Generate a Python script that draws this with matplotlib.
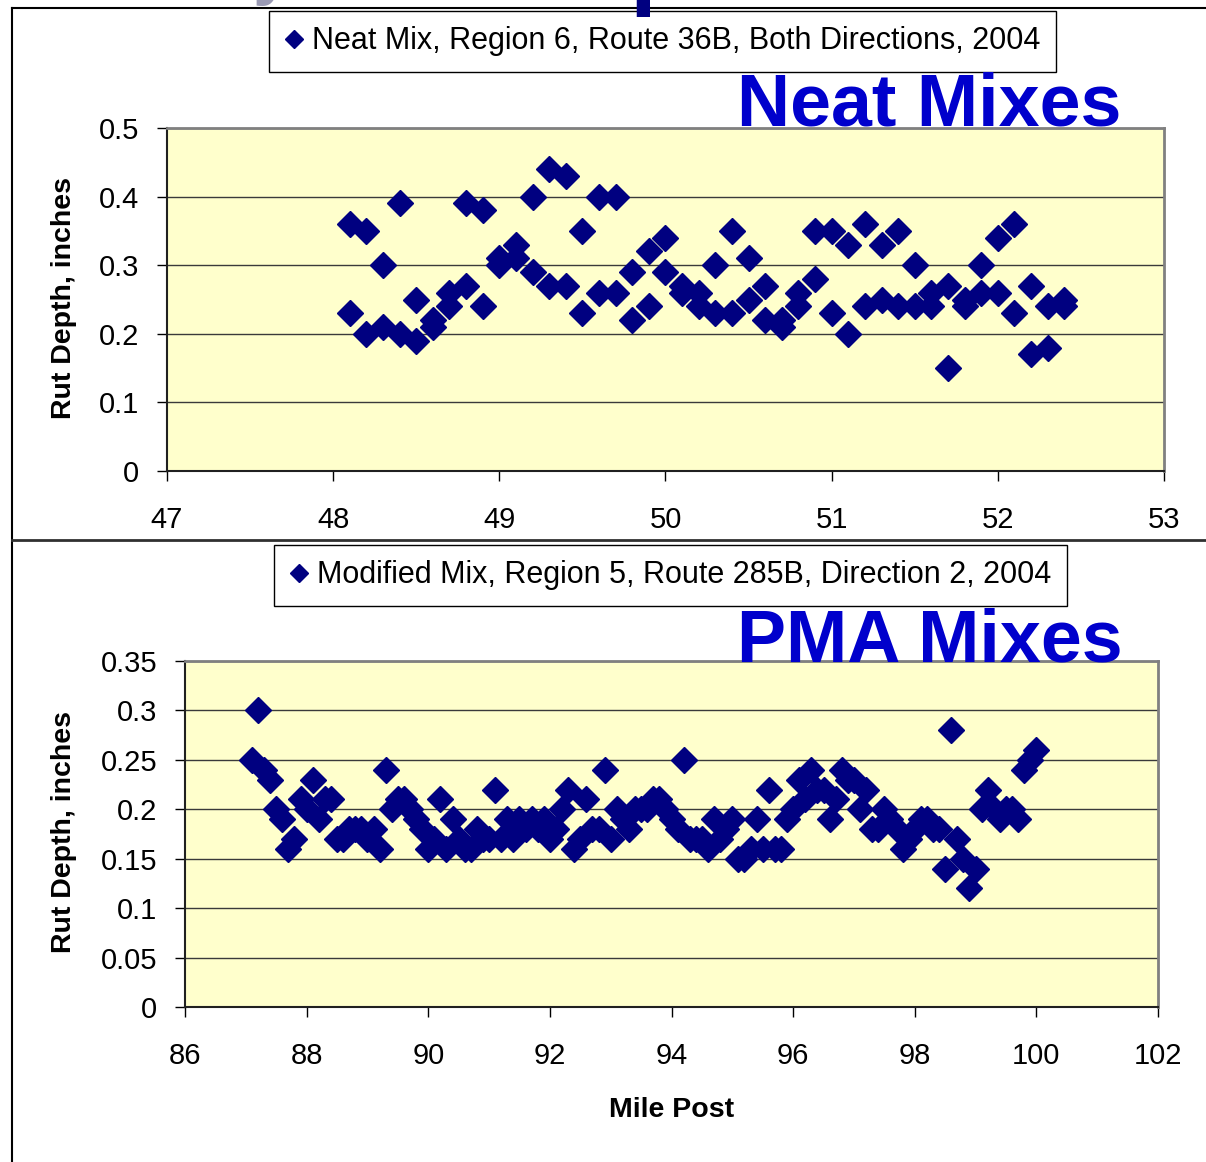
import matplotlib
matplotlib.use("Agg")
import matplotlib.pyplot as plt
from matplotlib.lines import Line2D

plt.rcParams['font.family'] = ['Liberation Sans', 'DejaVu Sans']

# top chart - neat mix, both directions
top_mile = [48.1, 48.2, 48.3, 48.4, 48.5, 48.6, 48.7, 48.8, 48.9,
            49.0, 49.1, 49.2, 49.3, 49.4, 49.5, 49.6, 49.7, 49.8, 49.9,
            50.0, 50.1, 50.2, 50.3, 50.4, 50.5, 50.6, 50.7, 50.8, 50.9,
            51.0, 51.1, 51.2, 51.3, 51.4, 51.5, 51.6, 51.7, 51.8, 51.9,
            52.0, 52.1, 52.2, 52.3, 52.4]
top_dir1 = [0.36, 0.35, 0.30, 0.39, 0.25, 0.22, 0.26, 0.39, 0.38,
            0.31, 0.33, 0.40, 0.44, 0.43, 0.35, 0.40, 0.40, 0.29, 0.32,
            0.34, 0.27, 0.26, 0.30, 0.35, 0.31, 0.27, 0.22, 0.26, 0.35,
            0.35, 0.33, 0.36, 0.33, 0.35, 0.30, 0.26, 0.27, 0.25, 0.30,
            0.34, 0.36, 0.27, 0.24, 0.25]
top_dir2 = [0.23, 0.20, 0.21, 0.20, 0.19, 0.21, 0.24, 0.27, 0.24,
            0.30, 0.31, 0.29, 0.27, 0.27, 0.23, 0.26, 0.26, 0.22, 0.24,
            0.29, 0.26, 0.24, 0.23, 0.23, 0.25, 0.22, 0.21, 0.24, 0.28,
            0.23, 0.20, 0.24, 0.25, 0.24, 0.24, 0.24, 0.15, 0.24, 0.26,
            0.26, 0.23, 0.17, 0.18, 0.24]

# bottom chart - modified (PMA) mix, direction 2
bot_mile = [87.1, 87.2, 87.3, 87.4, 87.5, 87.6, 87.7, 87.8, 87.9,
            88.0, 88.1, 88.2, 88.3, 88.4, 88.5, 88.6, 88.7, 88.8, 88.9,
            89.0, 89.1, 89.2, 89.3, 89.4, 89.5, 89.6, 89.7, 89.8, 89.9,
            90.0, 90.1, 90.2, 90.3, 90.4, 90.5, 90.6, 90.7, 90.8, 90.9,
            91.0, 91.1, 91.2, 91.3, 91.4, 91.5, 91.6, 91.7, 91.8, 91.9,
            92.0, 92.1, 92.2, 92.3, 92.4, 92.5, 92.6, 92.7, 92.8, 92.9,
            93.0, 93.1, 93.2, 93.3, 93.4, 93.5, 93.6, 93.7, 93.8, 93.9,
            94.0, 94.1, 94.2, 94.3, 94.4, 94.5, 94.6, 94.7, 94.8, 94.9,
            95.0, 95.1, 95.2, 95.3, 95.4, 95.5, 95.6, 95.7, 95.8, 95.9,
            96.0, 96.1, 96.2, 96.3, 96.4, 96.5, 96.6, 96.7, 96.8, 96.9,
            97.0, 97.1, 97.2, 97.3, 97.4, 97.5, 97.6, 97.7, 97.8, 97.9,
            98.0, 98.1, 98.2, 98.3, 98.4, 98.5, 98.6, 98.7, 98.8, 98.9,
            99.0, 99.1, 99.2, 99.3, 99.4, 99.5, 99.6, 99.7, 99.8, 99.9,
            100.0]
bot_rut = [0.25, 0.30, 0.24, 0.23, 0.20, 0.19, 0.16, 0.17, 0.21,
           0.20, 0.23, 0.19, 0.21, 0.21, 0.17, 0.17, 0.18, 0.18, 0.18,
           0.17, 0.18, 0.16, 0.24, 0.20, 0.21, 0.21, 0.20, 0.19, 0.18,
           0.16, 0.17, 0.21, 0.16, 0.19, 0.17, 0.16, 0.16, 0.18, 0.17,
           0.17, 0.22, 0.17, 0.19, 0.17, 0.19, 0.18, 0.19, 0.18, 0.19,
           0.17, 0.18, 0.20, 0.22, 0.16, 0.17, 0.21, 0.18, 0.18, 0.24,
           0.17, 0.20, 0.19, 0.18, 0.20, 0.20, 0.20, 0.21, 0.21, 0.20,
           0.19, 0.18, 0.25, 0.17, 0.17, 0.17, 0.16, 0.19, 0.17, 0.18,
           0.19, 0.15, 0.15, 0.16, 0.19, 0.16, 0.22, 0.16, 0.16, 0.19,
           0.20, 0.23, 0.21, 0.24, 0.22, 0.22, 0.19, 0.21, 0.24, 0.23,
           0.23, 0.20, 0.22, 0.18, 0.18, 0.20, 0.19, 0.18, 0.16, 0.17,
           0.18, 0.19, 0.19, 0.18, 0.18, 0.14, 0.28, 0.17, 0.15, 0.12,
           0.14, 0.20, 0.22, 0.20, 0.19, 0.20, 0.20, 0.19, 0.24, 0.25,
           0.26]

top_label = "Neat Mix, Region 6, Route 36B, Both Directions, 2004"
bot_label = "Modified Mix, Region 5, Route 285B, Direction 2, 2004"
top_xticks = [47, 48, 49, 50, 51, 52, 53]
top_yticks = [0, 0.1, 0.2, 0.3, 0.4, 0.5]
bot_xticks = [86, 88, 90, 92, 94, 96, 98, 100, 102]
bot_yticks = [0, 0.05, 0.1, 0.15, 0.2, 0.25, 0.3, 0.35]

W, H = 1206, 1162
navy = '#000080'
fig = plt.figure(figsize=(W / 100, H / 100), dpi=100)


def px(x0, y0, x1, y1):
    # pixel box -> figure fraction rect
    return [x0 / W, 1 - y1 / H, (x1 - x0) / W, (y1 - y0) / H]


def style(ax, xt, yt, ylabels):
    ax.set_facecolor('#FFFFCC')
    ax.set_xticks(xt)
    ax.set_yticks(yt)
    ax.set_yticklabels(ylabels)
    ax.set_xlim(xt[0], xt[-1])
    ax.set_ylim(yt[0], yt[-1])
    ax.yaxis.grid(True, color='#3a3a3a', lw=1)
    ax.set_axisbelow(True)
    for s in ['top', 'right']:
        ax.spines[s].set_color('#808080')
        ax.spines[s].set_linewidth(2)
    for s in ['left', 'bottom']:
        ax.spines[s].set_color('#202020')
        ax.spines[s].set_linewidth(1.5)
    ax.tick_params(axis='both', direction='out', length=7, width=1, labelsize=21)
    ax.tick_params(axis='y', pad=13)
    ax.tick_params(axis='x', pad=18)


ax1 = fig.add_axes(px(167, 128, 1164, 471))
ax1.plot(top_mile + top_mile, top_dir1 + top_dir2, ls='none', marker='D',
         ms=13.5, color=navy, label=top_label)
style(ax1, top_xticks, top_yticks, ['0', '0.1', '0.2', '0.3', '0.4', '0.5'])

ax2 = fig.add_axes(px(185, 661, 1158, 1007))
ax2.plot(bot_mile, bot_rut, ls='none', marker='D', ms=13.5, color=navy,
         label=bot_label)
style(ax2, bot_xticks, bot_yticks,
      ['0', '0.05', '0.1', '0.15', '0.2', '0.25', '0.3', '0.35'])

for ax, cx, cy in [(ax1, 662.5, 41.5), (ax2, 670.5, 575.5)]:
    leg = ax.legend(loc='center', bbox_to_anchor=(cx / W, 1 - cy / H),
                    bbox_transform=fig.transFigure, fontsize=22,
                    frameon=True, fancybox=False, framealpha=1,
                    handlelength=0.6, handletextpad=0.3, borderpad=0.5,
                    markerscale=0.7)
    leg.get_frame().set_edgecolor('black')
    leg.get_frame().set_linewidth(1)

fig.text(64 / W, 1 - 298 / H, 'Rut Depth, inches', rotation=90, fontsize=20.5,
         fontweight='bold', ha='center', va='center')
fig.text(64 / W, 1 - 832 / H, 'Rut Depth, inches', rotation=90, fontsize=20.5,
         fontweight='bold', ha='center', va='center')
fig.text(672 / W, 1 - 1110 / H, 'Mile Post', fontsize=20.5, fontweight='bold',
         ha='center', va='center')

fig.text(737 / W, 1 - 126 / H, 'Neat Mixes', fontsize=53, fontweight='bold',
         color='#0000CC', ha='left', va='baseline')
fig.text(737 / W, 1 - 661 / H, 'PMA Mixes', fontsize=53, fontweight='bold',
         color='#0000CC', ha='left', va='baseline')

# descenders of the slide title cut off above the frame
fig.text(252 / W, 1 + 8 / H, 'y', fontsize=50, fontweight='bold',
         color='#9a9ab4', ha='left', va='baseline')
fig.text(630 / W, 1 + 3 / H, 'p', fontsize=70, fontweight='bold',
         color=navy, ha='left', va='baseline')

# slide frame lines
fig.add_artist(Line2D([12 / W, 1], [1 - 8 / H, 1 - 8 / H], transform=fig.transFigure,
                      color='black', lw=1.5))
fig.add_artist(Line2D([12 / W, 12 / W], [0, 1 - 8 / H], transform=fig.transFigure,
                      color='black', lw=1.5))
fig.add_artist(Line2D([12 / W, 1], [1 - 540 / H, 1 - 540 / H], transform=fig.transFigure,
                      color='#303030', lw=2))

fig.savefig('out.png', dpi=100)
